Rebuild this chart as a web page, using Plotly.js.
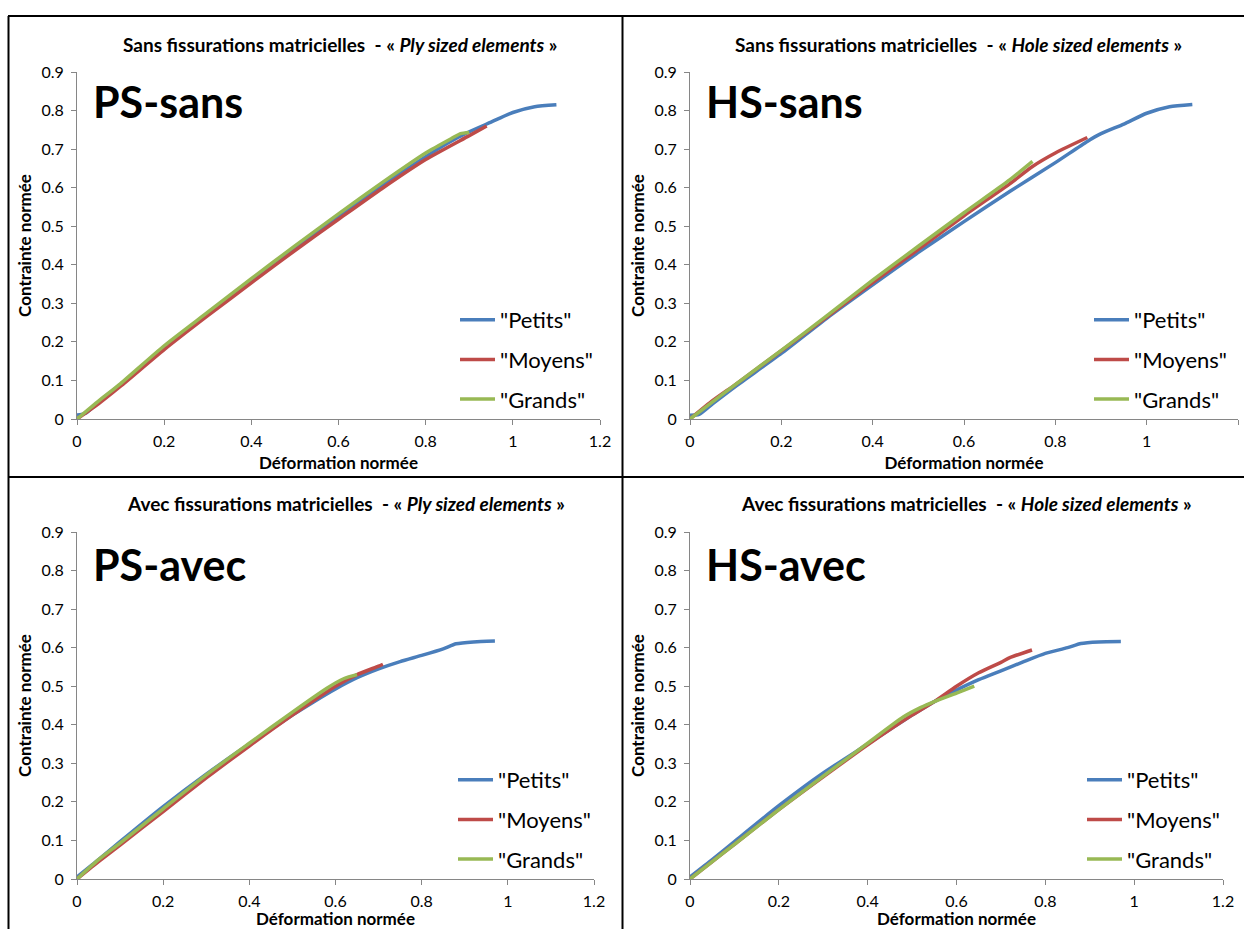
<!DOCTYPE html>
<html>
<head>
<meta charset="utf-8">
<script src="https://cdn.plot.ly/plotly-3.0.1.min.js"></script>
<style>html,body{margin:0;padding:0;background:#fff;}#chart{width:1244px;height:929px;}</style>
</head>
<body>
<div id="chart"></div>
<script>
// ---------- DATA ----------
const seriesNames = ['"Petits"', '"Moyens"', '"Grands"'];
const seriesColors = ['#4A7EBB', '#BE4B48', '#98B954'];

const panelTitles = [
  'Sans fissurations matricielles  - « <i>Ply sized elements</i> »',
  'Sans fissurations matricielles  - « <i>Hole sized elements</i> »',
  'Avec fissurations matricielles  - « <i>Ply sized elements</i> »',
  'Avec fissurations matricielles  - « <i>Hole sized elements</i> »'
];
const panelLabels = ['PS-sans', 'HS-sans', 'PS-avec', 'HS-avec'];

const xTickVals = [0, 0.2, 0.4, 0.6, 0.8, 1, 1.2];
const xTickText = ['0', '0.2', '0.4', '0.6', '0.8', '1', '1.2'];
const yTickVals = [0, 0.1, 0.2, 0.3, 0.4, 0.5, 0.6, 0.7, 0.8, 0.9];
const yTickText = ['0', '0.1', '0.2', '0.3', '0.4', '0.5', '0.6', '0.7', '0.8', '0.9'];
const xAxisTitle = 'Déformation normée';
const yAxisTitle = 'Contrainte normée';

// PS-sans
const psSansPetitsX = [0, 0.02, 0.05, 0.1, 0.2, 0.3, 0.4, 0.5, 0.6, 0.7, 0.8, 0.85, 0.9, 0.95, 1.0, 1.05, 1.1];
const psSansPetitsY = [0.01, 0.015, 0.045, 0.09, 0.185, 0.272, 0.358, 0.443, 0.525, 0.605, 0.68, 0.715, 0.745, 0.77, 0.795, 0.81, 0.815];
const psSansMoyensX = [0, 0.05, 0.1, 0.2, 0.3, 0.4, 0.5, 0.6, 0.7, 0.8, 0.9, 0.94];
const psSansMoyensY = [0, 0.04, 0.085, 0.18, 0.268, 0.353, 0.437, 0.518, 0.598, 0.673, 0.735, 0.76];
const psSansGrandsX = [0, 0.05, 0.1, 0.2, 0.3, 0.4, 0.5, 0.6, 0.7, 0.8, 0.86, 0.88, 0.9];
const psSansGrandsY = [0, 0.047, 0.092, 0.19, 0.277, 0.364, 0.449, 0.532, 0.613, 0.69, 0.728, 0.74, 0.743];

// HS-sans
const hsSansPetitsX = [0, 0.02, 0.05, 0.1, 0.2, 0.3, 0.4, 0.5, 0.6, 0.7, 0.8, 0.87, 0.9, 0.95, 1.0, 1.05, 1.1];
const hsSansPetitsY = [0.01, 0.012, 0.04, 0.085, 0.17, 0.262, 0.348, 0.432, 0.512, 0.59, 0.665, 0.72, 0.74, 0.765, 0.793, 0.81, 0.816];
const hsSansMoyensX = [0, 0.05, 0.1, 0.2, 0.3, 0.4, 0.5, 0.6, 0.7, 0.75, 0.8, 0.87];
const hsSansMoyensY = [0, 0.048, 0.09, 0.177, 0.265, 0.354, 0.44, 0.527, 0.61, 0.655, 0.69, 0.73];
const hsSansGrandsX = [0, 0.05, 0.1, 0.2, 0.3, 0.4, 0.5, 0.6, 0.7, 0.75];
const hsSansGrandsY = [0, 0.045, 0.09, 0.178, 0.268, 0.36, 0.448, 0.535, 0.62, 0.668];

// PS-avec
const psAvecPetitsX = [0, 0.05, 0.1, 0.2, 0.3, 0.4, 0.5, 0.55, 0.6, 0.65, 0.7, 0.75, 0.8, 0.85, 0.88, 0.92, 0.97];
const psAvecPetitsY = [0.005, 0.05, 0.097, 0.188, 0.272, 0.35, 0.425, 0.46, 0.493, 0.522, 0.545, 0.564, 0.58, 0.597, 0.61, 0.615, 0.617];
const psAvecMoyensX = [0, 0.05, 0.1, 0.2, 0.3, 0.4, 0.5, 0.6, 0.65, 0.7, 0.71];
const psAvecMoyensY = [0, 0.045, 0.088, 0.175, 0.262, 0.345, 0.425, 0.5, 0.53, 0.552, 0.557];
const psAvecGrandsX = [0, 0.05, 0.1, 0.2, 0.3, 0.4, 0.5, 0.58, 0.62, 0.65];
const psAvecGrandsY = [0, 0.05, 0.093, 0.182, 0.27, 0.352, 0.433, 0.495, 0.52, 0.53];

// HS-avec
const hsAvecPetitsX = [0, 0.05, 0.1, 0.2, 0.3, 0.4, 0.5, 0.55, 0.6, 0.65, 0.7, 0.75, 0.8, 0.85, 0.88, 0.92, 0.97];
const hsAvecPetitsY = [0.005, 0.05, 0.097, 0.19, 0.275, 0.35, 0.425, 0.46, 0.49, 0.517, 0.54, 0.563, 0.585, 0.6, 0.611, 0.615, 0.616];
const hsAvecMoyensX = [0, 0.05, 0.1, 0.2, 0.3, 0.4, 0.5, 0.55, 0.6, 0.65, 0.7, 0.72, 0.77];
const hsAvecMoyensY = [0, 0.045, 0.09, 0.18, 0.265, 0.348, 0.425, 0.46, 0.5, 0.535, 0.562, 0.574, 0.594];
const hsAvecGrandsX = [0, 0.05, 0.1, 0.2, 0.3, 0.4, 0.48, 0.52, 0.55, 0.6, 0.64];
const hsAvecGrandsY = [0, 0.045, 0.09, 0.18, 0.267, 0.352, 0.42, 0.445, 0.46, 0.482, 0.5];

// ---------- BUILD ----------
const W = 1244, H = 929;
const px = v => v / W;
const py = v => 1 - v / H;

const panels = [
  {xs: [psSansPetitsX, psSansMoyensX, psSansGrandsX], ys: [psSansPetitsY, psSansMoyensY, psSansGrandsY],
   xd: [77, 600], yd: [72, 419], leg: [455, 299], lab: [91, 102], tit: [340, 44]},
  {xs: [hsSansPetitsX, hsSansMoyensX, hsSansGrandsX], ys: [hsSansPetitsY, hsSansMoyensY, hsSansGrandsY],
   xd: [690, 1238], yd: [72, 419], leg: [1089, 299], lab: [704, 102], tit: [958, 44]},
  {xs: [psAvecPetitsX, psAvecMoyensX, psAvecGrandsX], ys: [psAvecPetitsY, psAvecMoyensY, psAvecGrandsY],
   xd: [77, 594], yd: [532, 879], leg: [453, 759], lab: [91, 564], tit: [346, 503]},
  {xs: [hsAvecPetitsX, hsAvecMoyensX, hsAvecGrandsX], ys: [hsAvecPetitsY, hsAvecMoyensY, hsAvecGrandsY],
   xd: [690, 1223], yd: [532, 879], leg: [1082, 759], lab: [704, 564], tit: [966, 503]}
];

const FONT = 'Lato, "Open Sans", sans-serif';
const data = [];
const layout = {
  width: W, height: H,
  margin: {l: 0, r: 0, t: 0, b: 0},
  paper_bgcolor: '#fff', plot_bgcolor: 'rgba(0,0,0,0)',
  font: {family: FONT, color: '#000', size: 16},
  annotations: [], shapes: []
};

panels.forEach((p, i) => {
  const n = i === 0 ? '' : String(i + 1);
  const legKey = 'legend' + n;
  for (let s = 0; s < 3; s++) {
    data.push({
      type: 'scatter', mode: 'lines',
      x: p.xs[s], y: p.ys[s],
      name: seriesNames[s],
      xaxis: 'x' + n, yaxis: 'y' + n,
      legend: legKey,
      legendgroup: 'g' + i + '_' + s,
      line: {color: seriesColors[s], width: 3.5, shape: 'spline', smoothing: 0.6},
      hoverinfo: 'x+y'
    });
  }
  const axCommon = {
    showgrid: false, zeroline: false, showline: true,
    linecolor: '#868686', linewidth: 1,
    ticks: 'outside', ticklen: 5, tickcolor: '#868686', tickwidth: 1,
    tickfont: {family: FONT, size: 16, color: '#000'},
    layer: 'below traces', fixedrange: true
  };
  layout['xaxis' + n] = Object.assign({}, axCommon, {
    domain: [px(p.xd[0]), px(p.xd[1])], anchor: 'y' + n,
    range: [0, 1.2], tickvals: xTickVals, ticktext: xTickText,
    ticklabelstandoff: 3,
    title: {text: '<b>' + xAxisTitle + '</b>', font: {family: FONT, size: 17, color: '#000'}, standoff: 7}
  });
  layout['yaxis' + n] = Object.assign({}, axCommon, {
    domain: [py(p.yd[1]), py(p.yd[0])], anchor: 'x' + n,
    range: [0, 0.9], tickvals: yTickVals, ticktext: yTickText,
    ticklabelstandoff: 4,
    title: {text: '<b>' + yAxisTitle + '</b>', font: {family: FONT, size: 17, color: '#000'}, standoff: 5}
  });
  layout[legKey] = {
    x: px(p.leg[0]), y: py(p.leg[1]), xanchor: 'left', yanchor: 'top',
    bgcolor: 'rgba(0,0,0,0)', borderwidth: 0,
    font: {family: FONT, size: 22, color: '#000'},
    traceorder: 'grouped', tracegroupgap: 8, itemwidth: 35
  };
  layout.annotations.push({
    xref: 'paper', yref: 'paper', x: px(p.tit[0]), y: py(p.tit[1]),
    xanchor: 'center', yanchor: 'middle', showarrow: false,
    text: '<b>' + panelTitles[i] + '</b>',
    font: {family: FONT, size: 19, color: '#000'}
  });
  layout.annotations.push({
    xref: 'paper', yref: 'paper', x: px(p.lab[0]), y: py(p.lab[1]),
    xanchor: 'left', yanchor: 'middle', showarrow: false,
    text: '<b>' + panelLabels[i] + '</b>',
    font: {family: FONT, size: 43, color: '#000'}
  });
});

// panel borders
const border = {type: 'line', xref: 'paper', yref: 'paper', line: {color: '#000', width: 2}};
layout.shapes.push(Object.assign({}, border, {x0: px(8), x1: 1, y0: py(16), y1: py(16)}));
layout.shapes.push(Object.assign({}, border, {x0: px(8), x1: 1, y0: py(477), y1: py(477)}));
layout.shapes.push(Object.assign({}, border, {x0: px(8.5), x1: px(8.5), y0: py(16), y1: 0}));
layout.shapes.push(Object.assign({}, border, {x0: px(622.5), x1: px(622.5), y0: py(16), y1: 0}));

Plotly.newPlot('chart', data, layout, {displayModeBar: false});
</script>
</body>
</html>
